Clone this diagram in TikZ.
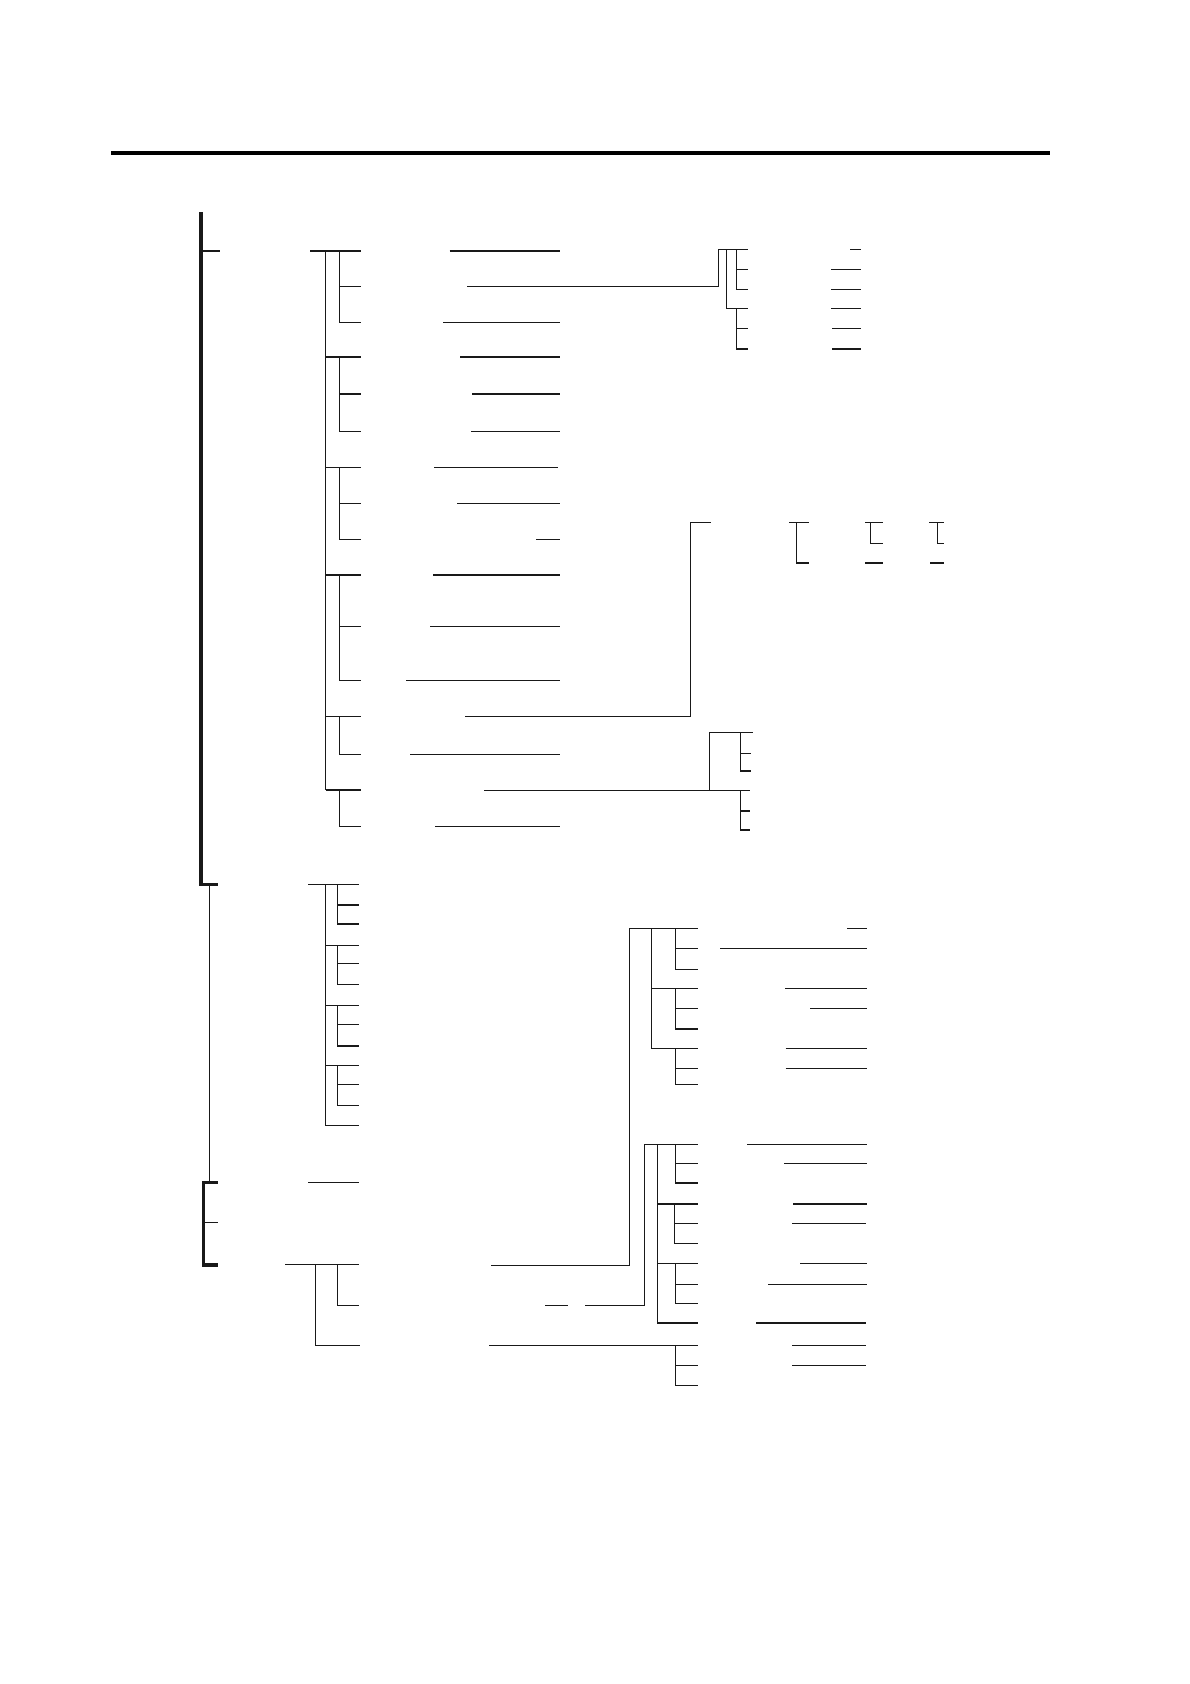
\documentclass[tikz,border=0pt]{standalone}
\begin{document}
\begin{tikzpicture}[x=1pt,y=-1pt,
  thinline/.style={line width=1.3pt,black!90},
  heavyline/.style={line width=3.4pt,black!90},
  ruleline/.style={line width=4pt,black}]
\fill[white] (0,0) rectangle (1190,1684);
\useasboundingbox (0,0) rectangle (1190,1684);
% top rule
\draw[ruleline] (111,153)--(1050,153);
% thick bracket upper
\draw[heavyline] (201,212)--(201,884.5)--(217.7,884.5);
\draw[thinline] (201,251)--(220,251);
\draw[thinline] (209.7,884.5)--(209.7,1182.3);
% thick bracket lower
\draw[heavyline] (217.7,1182.3)--(203.3,1182.3)--(203.3,1265)--(217.7,1265);
\draw[thinline] (203.3,1222.3)--(217.7,1222.3);

% ---------- tree 1 ----------
\begin{scope}[thinline]
\draw (310,251)--(361,251);
\draw (325.7,251)--(325.7,790);
\draw (339.7,251)|-(361,322.3); \draw (339.7,286.3)--(361,286.3);
\draw (325.7,357)--(361,357); \draw (339.7,357)|-(361,431.3); \draw (339.7,394)--(361,394);
\draw (325.7,467.3)--(361,467.3); \draw (339.7,467.3)|-(361,539.3); \draw (339.7,503.3)--(361,503.3);
\draw (325.7,575)--(361,575); \draw (339.7,575)|-(361,680.3); \draw (339.7,626.3)--(361,626.3);
\draw (325.7,716.3)--(361,716.3); \draw (339.7,716.3)|-(361,754.3);
\draw (325.7,790)--(361,790); \draw (339.7,790)|-(361,826.3);
% right underlines
\draw (449.7,251)--(560,251);
\draw (467,286.3)--(718.3,286.3)--(718.3,249.3)--(748.3,249.3);
\draw (443,322.3)--(560,322.3);
\draw (460,357)--(560,357);
\draw (472,394)--(560,394);
\draw (471,431.3)--(560,431.3);
\draw (434,467.3)--(558,467.3);
\draw (457,503.3)--(560,503.3);
\draw (536,539.3)--(560,539.3);
\draw (433,575)--(560,575);
\draw (430,626.3)--(560,626.3);
\draw (406,680.3)--(560,680.3);
\draw (465,716.3)--(690.3,716.3)--(690.3,522.3)--(710.7,522.3);
\draw (410,754.3)--(560,754.3);
\draw (484,790.3)--(709.3,790.3)--(709.3,732.3)--(752.7,732.3);
\draw (435,826.3)--(560,826.3);
% top-right mini tree
\draw (726.3,249.3)|-(748.3,308.3);
\draw (736.7,249.3)|-(748.3,289.3); \draw (736.7,269.3)--(748.3,269.3);
\draw (736.7,308.3)|-(748.3,349); \draw (736.7,328.3)--(748.3,328.3);
\draw (850,249.3)--(861,249.3);
\draw (831,269.3)--(861,269.3);
\draw (831,289.3)--(861,289.3);
\draw (831,308.3)--(861,308.3);
\draw (832,328.3)--(861,328.3);
\draw (832,349)--(861,349);
% brackets at 522
\draw (789,522.3)--(808.7,522.3); \draw (796.3,522.3)|-(808.7,563);
\draw (865.3,522.3)--(882.7,522.3); \draw (870.3,522.3)|-(882.7,543.3); \draw (865.3,563)--(882.7,563);
\draw (929,522.3)--(944,522.3); \draw (937.3,522.3)|-(944,543.3); \draw (930,563)--(944,563);
% mini tree at 732
\draw (740.3,732.3)|-(751,771); \draw (740.3,753.3)--(751,753.3);
\draw (709.3,790.3)--(750,790.3); \draw (740.3,790.3)|-(750,830); \draw (740.3,811)--(750,811);
\end{scope}

% ---------- tree 2 ----------
\begin{scope}[thinline]
\draw (308,884.3)--(359,884.3);
\draw (325.7,884.3)|-(359,1125.3);
\draw (337.3,884.3)|-(359,924); \draw (337.3,905)--(359,905);
\draw (325.7,945.3)--(359,945.3); \draw (337.3,945.3)|-(359,984.3); \draw (337.3,963.3)--(359,963.3);
\draw (325.7,1005.3)--(359,1005.3); \draw (337.3,1005.3)|-(359,1046); \draw (337.3,1024.3)--(359,1024.3);
\draw (325.7,1065.3)--(359,1065.3); \draw (337.3,1065.3)|-(359,1105.3); \draw (337.3,1084.3)--(359,1084.3);
\draw (308,1182.3)--(359,1182.3);
\end{scope}

% ---------- tree 3 ----------
\begin{scope}[thinline]
\draw (285,1264.3)--(359,1264.3);
\draw (315.3,1264.3)|-(360,1345.3);
\draw (337.3,1264.3)|-(359,1305.3);
\draw (491,1265.3)--(629.7,1265.3)--(629.7,928.7)--(697.7,928.7);
\draw (545,1305.3)--(567.7,1305.3);
\draw (585,1305.3)--(644.3,1305.3)--(644.3,1144.3)--(697.7,1144.3);
\draw (489,1345.3)--(697.7,1345.3); \draw (675.7,1345.3)|-(697.7,1385.3); \draw (675.7,1365.3)--(697.7,1365.3);
% right lower tree
\draw (651.7,928.7)|-(697.7,1048.3); \draw (651.7,988.3)--(697.7,988.3);
\draw (675.7,928.7)|-(697.7,969.3); \draw (675.7,948.3)--(697.7,948.3);
\draw (675.7,988.3)|-(697.7,1029); \draw (675.7,1008.3)--(697.7,1008.3);
\draw (675.7,1048.3)|-(697.7,1084.3); \draw (675.7,1068.3)--(697.7,1068.3);
\draw (657.7,1144.3)|-(697.7,1323); \draw (657.7,1204)--(697.7,1204); \draw (657.7,1263.3)--(697.7,1263.3);
\draw (675.7,1144.3)|-(697.7,1183); \draw (675.7,1163.3)--(697.7,1163.3);
\draw (674.3,1204)|-(697.7,1243.3); \draw (674.3,1223.3)--(697.7,1223.3);
\draw (675.7,1263.3)|-(697.7,1303.3); \draw (675.7,1284.3)--(697.7,1284.3);
% right underlines
\draw (847,928.7)--(867,928.7);
\draw (720,948.3)--(867,948.3);
\draw (785,988.3)--(867,988.3);
\draw (810,1008.3)--(867,1008.3);
\draw (785.7,1048.3)--(867,1048.3);
\draw (785.7,1068.3)--(867,1068.3);
\draw (747,1144.3)--(867,1144.3);
\draw (784,1163.3)--(867,1163.3);
\draw (793,1204)--(867,1204);
\draw (792,1223.3)--(866,1223.3);
\draw (800,1263.3)--(867,1263.3);
\draw (768,1284.3)--(867,1284.3);
\draw (756,1323)--(866,1323);
\draw (792,1345.3)--(866,1345.3);
\draw (792,1365.3)--(866,1365.3);
\end{scope}
\end{tikzpicture}
\end{document}
